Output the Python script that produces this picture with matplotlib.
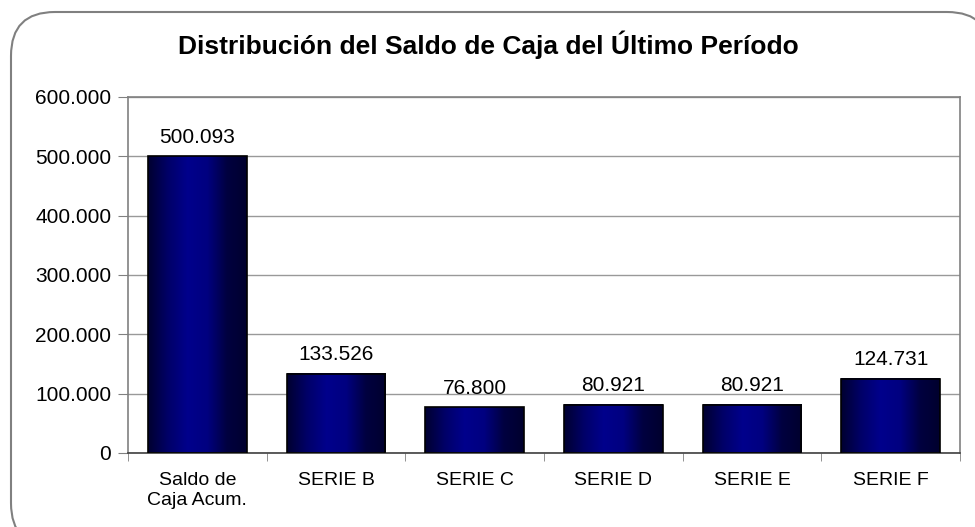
import numpy as np
import matplotlib
matplotlib.use("Agg")
import matplotlib.pyplot as plt
from matplotlib.colors import LinearSegmentedColormap
from matplotlib.patches import FancyBboxPatch
from matplotlib.ticker import FuncFormatter, MultipleLocator

categories = ["Saldo de\nCaja Acum.", "SERIE B", "SERIE C", "SERIE D", "SERIE E", "SERIE F"]
values = [500093, 133526, 76800, 80921, 80921, 124731]
title = "Distribución del Saldo de Caja del Último Período"


def miles(v, _pos=None):
    return f"{int(round(v)):,}".replace(",", ".")


plt.rcParams["font.family"] = ["Liberation Sans", "DejaVu Sans"]

W, H = 975, 527
fig = plt.figure(figsize=(W / 100, H / 100), dpi=100)

# marco redondeado exterior
frame = FancyBboxPatch((11 / W, -20 / H), 980 / W, (H - 12 + 20) / H,
                       boxstyle="round,pad=0,rounding_size=0.045",
                       transform=fig.transFigure, facecolor="white",
                       edgecolor="#808080", linewidth=1.5,
                       mutation_aspect=W / H, zorder=-5)
fig.patches.append(frame)

left, right, top, bottom = 128, 960, 97, 453
ax = fig.add_axes([left / W, 1 - bottom / H, (right - left) / W, (bottom - top) / H])
ax.set_zorder(2)
ax.set_facecolor("white")

x = np.arange(len(values))
width = 0.71
grad = LinearSegmentedColormap.from_list(
    "cyl", ["#000030", "#000068", "#00008c", "#000080", "#000040", "#00002e"])
img = np.linspace(0, 1, 200).reshape(1, -1)
for xi, v in zip(x, values):
    ax.imshow(img, cmap=grad, extent=[xi - width / 2, xi + width / 2, 0, v],
              aspect="auto", zorder=2)
ax.bar(x, values, width=width, facecolor="none", edgecolor="black",
       linewidth=1.2, zorder=3)
for xi, v in zip(x, values):
    ax.annotate(miles(v), (xi, v), xytext=(0, 7), textcoords="offset points",
                ha="center", va="bottom", fontsize=15)

ax.set_xlim(-0.5, len(values) - 0.5)
ax.set_ylim(0, 600000)
ax.yaxis.set_major_locator(MultipleLocator(100000))
ax.yaxis.set_major_formatter(FuncFormatter(miles))
ax.grid(axis="y", color="#999999", linewidth=1)
ax.set_axisbelow(True)

ax.set_xticks(x)
ax.set_xticklabels(categories, fontsize=14, linespacing=1.2)
ax.set_xticks(np.arange(len(values) + 1) - 0.5, minor=True)
ax.tick_params(axis="x", which="major", length=0, pad=14)
ax.tick_params(axis="x", which="minor", length=6, color="#808080", direction="out")
ax.tick_params(axis="y", length=7, color="#808080", labelsize=15, pad=5)

for s in ["top", "right", "left"]:
    ax.spines[s].set_color("#808080")
    ax.spines[s].set_linewidth(1.2)
ax.spines["bottom"].set_color("#404040")
ax.spines["bottom"].set_linewidth(1.2)

fig.text(488 / W, 1 - 45 / H, title, ha="center", va="center",
         fontsize=19, fontweight="bold")

fig.savefig("out.png", dpi=100)
